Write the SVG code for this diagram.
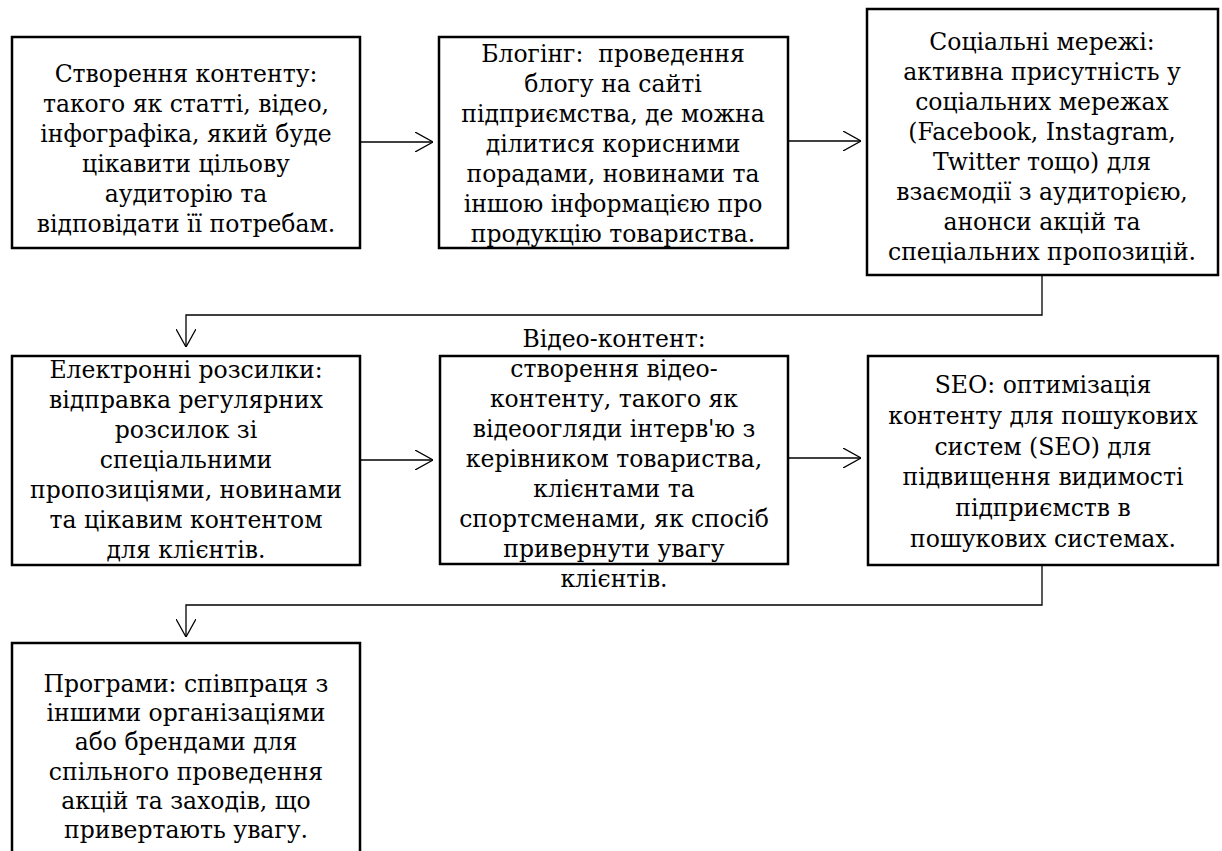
<svg xmlns="http://www.w3.org/2000/svg" width="1222" height="851" viewBox="0 0 1222 851">
<style>
.box{fill:#fff;stroke:#000;stroke-width:2.5}
.t{font-family:"DejaVu Serif","Liberation Serif",serif;font-size:23.5px;fill:#000;text-anchor:middle;white-space:pre}
.c{fill:none;stroke:#000;stroke-width:1.3}
</style>
<defs>
<marker id="ah" viewBox="0 0 18 20" refX="18" refY="10" markerWidth="18" markerHeight="20" orient="auto" markerUnits="userSpaceOnUse">
<path d="M0,0 L18,10 L0,20" fill="none" stroke="#000" stroke-width="1.3"/>
</marker>
</defs>
<rect width="1222" height="851" fill="#fff"/>
<g id="connectors">
<path class="c" d="M360,142 H433" marker-end="url(#ah)"/>
<path class="c" d="M788,141 H861" marker-end="url(#ah)"/>
<path class="c" d="M1042,275 V315 H186 V347" marker-end="url(#ah)"/>
<path class="c" d="M360,460 H433" marker-end="url(#ah)"/>
<path class="c" d="M788,458 H861" marker-end="url(#ah)"/>
<path class="c" d="M1042,565 V605 H186 V637" marker-end="url(#ah)"/>
</g>
<g id="n1">
<rect class="box" x="12" y="37" width="348" height="211"/>
<text class="t" x="186" y="82">Створення контенту:</text>
<text class="t" x="186" y="112">такого як статті, відео,</text>
<text class="t" x="186" y="142">інфографіка, який буде</text>
<text class="t" x="186" y="172">цікавити цільову</text>
<text class="t" x="186" y="202">аудиторію та</text>
<text class="t" x="186" y="232">відповідати її потребам.</text>
</g>
<g id="n2">
<rect class="box" x="439" y="37" width="349" height="211"/>
<text class="t" x="613" y="62">Блогінг:  проведення</text>
<text class="t" x="613" y="92">блогу на сайті</text>
<text class="t" x="613" y="122">підприємства, де можна</text>
<text class="t" x="613" y="152">ділитися корисними</text>
<text class="t" x="613" y="182">порадами, новинами та</text>
<text class="t" x="613" y="212">іншою інформацією про</text>
<text class="t" x="613" y="242">продукцію товариства.</text>
</g>
<g id="n3">
<rect class="box" x="867" y="9" width="351" height="266"/>
<text class="t" x="1042" y="50">Соціальні мережі:</text>
<text class="t" x="1042" y="80">активна присутність у</text>
<text class="t" x="1042" y="110">соціальних мережах</text>
<text class="t" x="1042" y="140">(Facebook, Instagram,</text>
<text class="t" x="1042" y="170">Twitter тощо) для</text>
<text class="t" x="1042" y="200">взаємодії з аудиторією,</text>
<text class="t" x="1042" y="230">анонси акцій та</text>
<text class="t" x="1042" y="260">спеціальних пропозицій.</text>
</g>
<g id="n4">
<rect class="box" x="12" y="356" width="348" height="209"/>
<text class="t" x="186" y="378">Електронні розсилки:</text>
<text class="t" x="186" y="408">відправка регулярних</text>
<text class="t" x="186" y="438">розсилок зі</text>
<text class="t" x="186" y="468">спеціальними</text>
<text class="t" x="186" y="498">пропозиціями, новинами</text>
<text class="t" x="186" y="528">та цікавим контентом</text>
<text class="t" x="186" y="558">для клієнтів.</text>
</g>
<g id="n5">
<rect class="box" x="440" y="356" width="348" height="208"/>
<text class="t" x="614" y="347">Відео-контент:</text>
<text class="t" x="614" y="377">створення відео-</text>
<text class="t" x="614" y="407">контенту, такого як</text>
<text class="t" x="614" y="437">відеоогляди інтерв'ю з</text>
<text class="t" x="614" y="467">керівником товариства,</text>
<text class="t" x="614" y="497">клієнтами та</text>
<text class="t" x="614" y="527">спортсменами, як спосіб</text>
<text class="t" x="614" y="557">привернути увагу</text>
<text class="t" x="614" y="587">клієнтів.</text>
</g>
<g id="n6">
<rect class="box" x="868" y="356" width="350" height="209"/>
<text class="t" x="1043" y="393">SEO: оптимізація</text>
<text class="t" x="1043" y="424">контенту для пошукових</text>
<text class="t" x="1043" y="455">систем (SEO) для</text>
<text class="t" x="1043" y="485">підвищення видимості</text>
<text class="t" x="1043" y="516">підприємств в</text>
<text class="t" x="1043" y="547">пошукових системах.</text>
</g>
<g id="n7">
<rect class="box" x="12" y="643" width="348" height="230"/>
<text class="t" x="186" y="692">Програми: співпраця з</text>
<text class="t" x="186" y="721">іншими організаціями</text>
<text class="t" x="186" y="750">або брендами для</text>
<text class="t" x="186" y="780">спільного проведення</text>
<text class="t" x="186" y="809">акцій та заходів, що</text>
<text class="t" x="186" y="838">привертають увагу.</text>
</g>
</svg>
